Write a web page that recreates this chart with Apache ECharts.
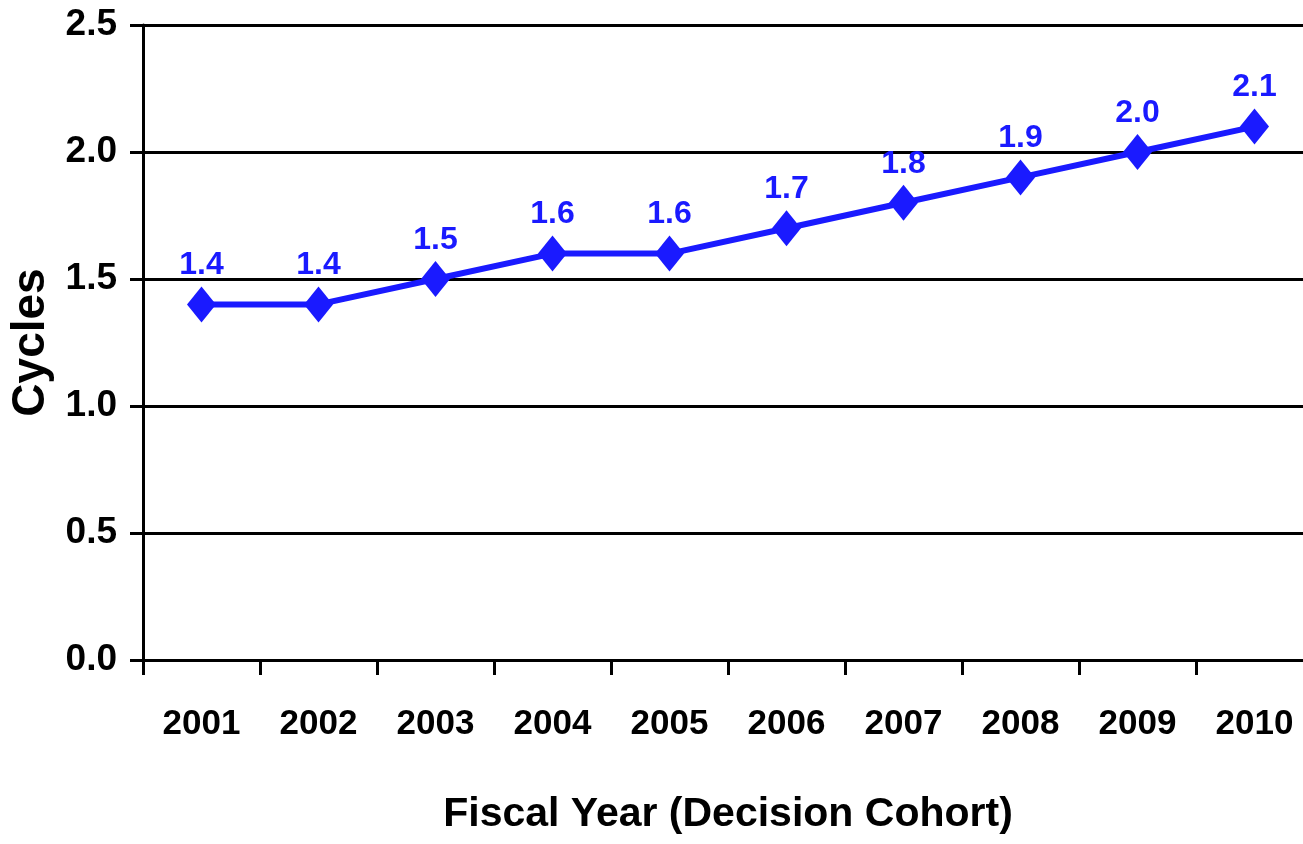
<!DOCTYPE html>
<html lang="en">
  <head>
    <meta charset="UTF-8" />
    <title>Cycles by Fiscal Year</title>
    <style>
      * {
        margin: 0;
        padding: 0;
      }
      body {
        background: #fff;
      }
      #main {
        width: 1303px;
        height: 844px;
      }
    </style>
  </head>
  <body>
    <div id="main"></div>
    <script src="https://cdn.jsdelivr.net/npm/echarts@6/dist/echarts.min.js"></script>
    <script>
      // fiscal years (decision cohort)
      var years = ["2001", "2002", "2003", "2004", "2005", "2006", "2007", "2008", "2009", "2010"];
      // average cycles per cohort
      var cycles = [1.4, 1.4, 1.5, 1.6, 1.6, 1.7, 1.8, 1.9, 2.0, 2.1];

      var font = "'Liberation Sans', Arial, sans-serif";
      var blue = "#1a1aff";

      var myChart = echarts.init(document.getElementById("main"));

      var option = {
        animation: false,
        grid: {
          left: 143,
          top: 25,
          bottom: 184,
          width: 1170,
          containLabel: false,
          outerBoundsMode: "none",
        },
        xAxis: {
          type: "category",
          data: years,
          boundaryGap: true,
          name: "Fiscal Year (Decision Cohort)",
          nameLocation: "middle",
          nameGap: 134,
          nameTextStyle: {
            color: "#000",
            fontFamily: font,
            fontWeight: "bold",
            fontSize: 41,
          },
          axisLine: { lineStyle: { color: "#000", width: 3 } },
          axisTick: { show: true, length: 15, lineStyle: { color: "#000", width: 3 } },
          axisLabel: {
            interval: 0,
            color: "#000",
            fontFamily: font,
            fontWeight: "bold",
            fontSize: 35,
            margin: 47,
          },
        },
        yAxis: {
          type: "value",
          min: 0,
          max: 2.5,
          interval: 0.5,
          name: "Cycles",
          nameLocation: "middle",
          nameGap: 86,
          nameTextStyle: {
            color: "#000",
            fontFamily: font,
            fontWeight: "bold",
            fontSize: 46,
          },
          axisLine: { show: true, lineStyle: { color: "#000", width: 3 } },
          axisTick: { show: true, length: 13, lineStyle: { color: "#000", width: 3 } },
          splitLine: { lineStyle: { color: "#000", width: 3 } },
          axisLabel: {
            color: "#000",
            fontFamily: font,
            fontWeight: "bold",
            fontSize: 37,
            margin: 26,
            formatter: function (v) {
              return v.toFixed(1);
            },
          },
        },
        series: [
          {
            type: "line",
            data: cycles,
            symbol: "diamond",
            symbolSize: [29, 36],
            lineStyle: { color: blue, width: 6 },
            itemStyle: { color: blue },
            label: {
              show: true,
              position: "top",
              distance: 5,
              color: blue,
              fontFamily: font,
              fontWeight: "bold",
              fontSize: 32,
              formatter: function (p) {
                return p.value.toFixed(1);
              },
            },
          },
        ],
      };

      myChart.setOption(option);
    </script>
  </body>
</html>
